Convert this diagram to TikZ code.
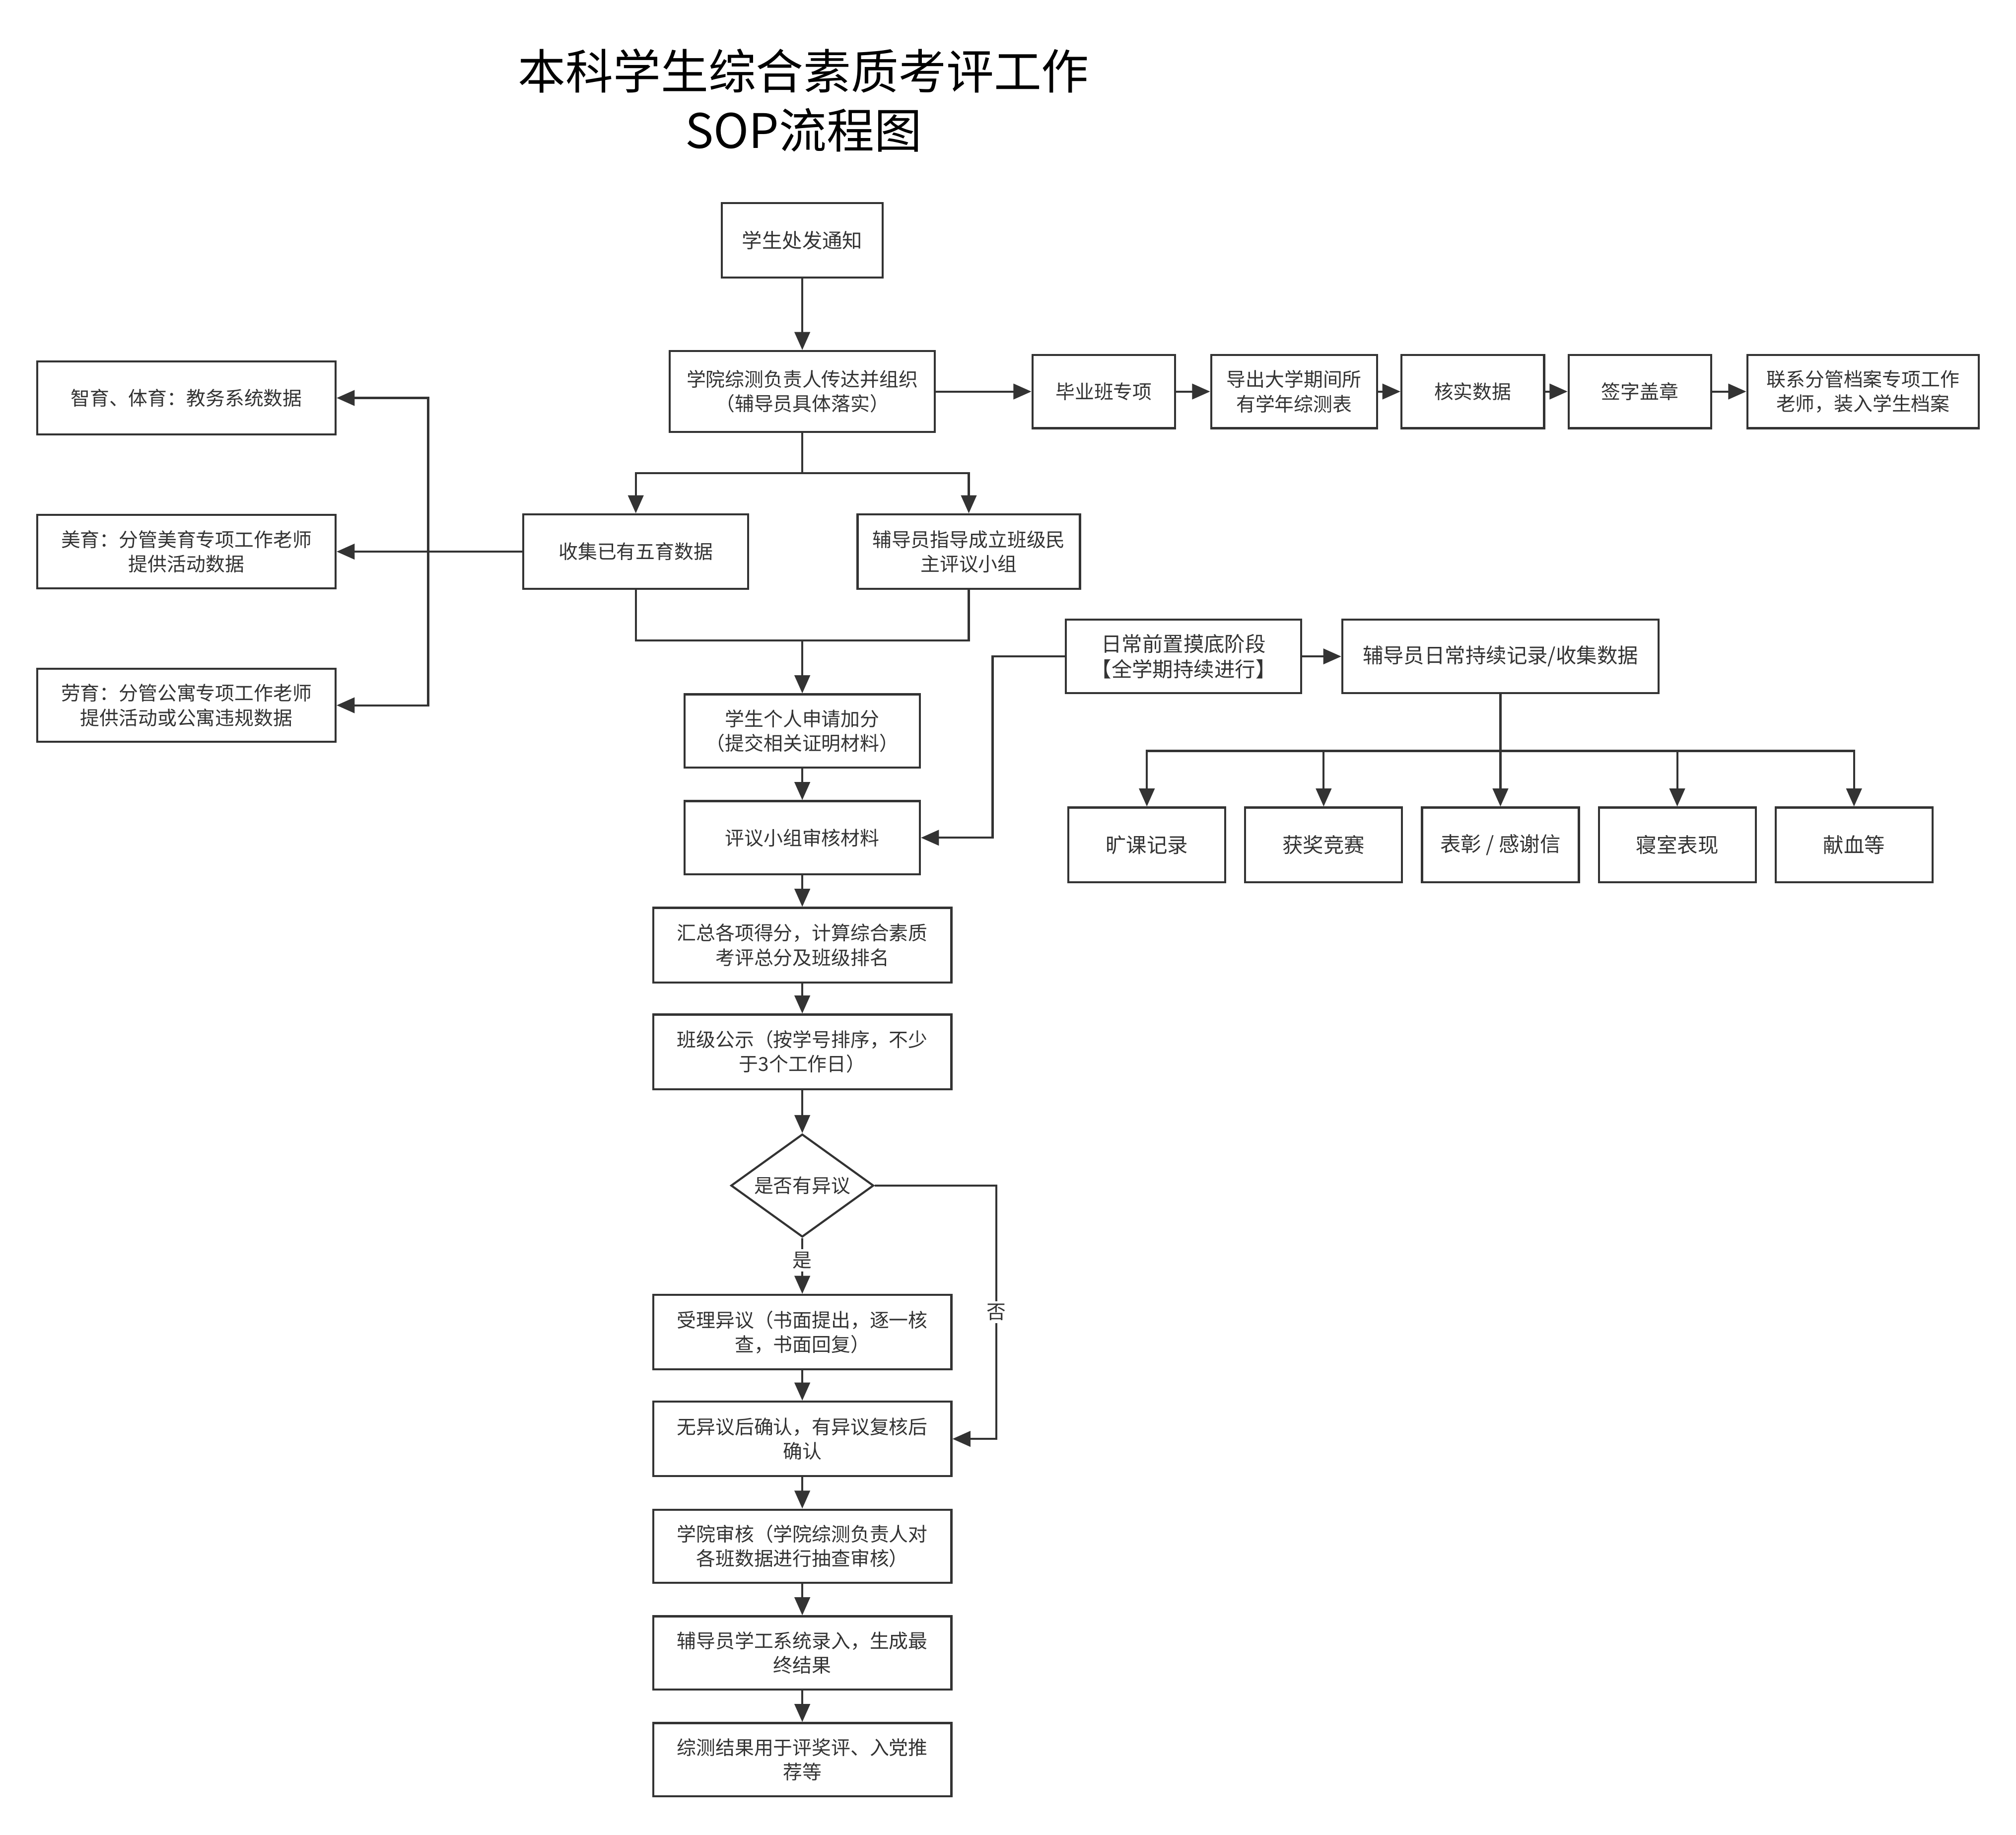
\documentclass[tikz,border=0pt]{standalone}
\usepackage{fontspec}
\setmainfont{Noto Sans CJK SC}
\usepackage{tikz}
\usetikzlibrary{arrows.meta,shapes.geometric,positioning,calc}
\definecolor{linie}{HTML}{333333}
\tikzset{
	kasten/.style={rectangle,draw,line width=0.8pt,inner sep=0pt,align=center,minimum height=28.5pt,font=\fontsize{7.5}{9.5}\selectfont},
	gross/.style={kasten,font=\fontsize{8}{10}\selectfont},
	raute/.style={diamond,draw,line width=0.8pt,aspect=1.4,inner sep=0pt,minimum width=55.5pt,minimum height=40pt,font=\fontsize{7.5}{9.5}\selectfont},
	marke/.style={fill=white,inner sep=1pt,font=\fontsize{7.5}{9.5}\selectfont}
}

\begin{document}
\begin{tikzpicture}[x=0.5pt,y=-0.5pt,color=linie,line width=0.8pt,>={Triangle[length=7pt,width=6pt]}]
	\useasboundingbox (0,0) rectangle (1568,1427);
	% Titel
		\node (titel) at (625,78) [align=center,text=black,font=\fontsize{18.5}{23}\selectfont] {本科学生综合素质考评工作\\SOP流程图};
	% Knoten
		\node (1) at (624,187) [kasten,minimum width=62.5pt,minimum height=29pt,font=\fontsize{7.8}{9.5}\selectfont] {学生处发通知};
		\node (2) at (624,304.5) [kasten,minimum width=103pt,minimum height=31.5pt] {学院综测负责人传达并组织\\（辅导员具体落实）};
		\node (3) at (858.5,304.5) [kasten,minimum width=55.5pt] {毕业班专项};
		\node (4) at (1006.5,304.5) [kasten,minimum width=64.5pt] {导出大学期间所\\有学年综测表};
		\node (5) at (1145.5,304.5) [kasten,minimum width=55.5pt] {核实数据};
		\node (6) at (1275.5,304.5) [kasten,minimum width=55.5pt] {签字盖章};
		\node (7) at (1449,304.5) [kasten,minimum width=90pt] {联系分管档案专项工作\\老师，装入学生档案};
		\node (8) at (145,309.5) [kasten,minimum width=116pt] {智育、体育：教务系统数据};
		\node (9) at (145,429) [kasten,minimum width=116pt] {美育：分管美育专项工作老师\\提供活动数据};
		\node (10) at (145,548.5) [kasten,minimum width=116pt] {劳育：分管公寓专项工作老师\\提供活动或公寓违规数据};
		\node (11) at (494.5,429) [kasten,minimum width=87.5pt,minimum height=29pt] {收集已有五育数据};
		\node (12) at (753.5,429) [kasten,minimum width=86.5pt,minimum height=29pt] {辅导员指导成立班级民\\主评议小组};
		\node (13) at (624,568.5) [kasten,minimum width=91.5pt] {学生个人申请加分\\（提交相关证明材料）};
		\node (14) at (624,651.5) [kasten,minimum width=91.5pt] {评议小组审核材料};
		\node (15) at (624,735) [kasten,minimum width=116pt,minimum height=29pt] {汇总各项得分，计算综合素质\\考评总分及班级排名};
		\node (16) at (624,818) [kasten,minimum width=116pt,minimum height=29pt] {班级公示（按学号排序，不少\\于3个工作日）};
		\node (17) at (624,922) [raute] {是否有异议};
		\node (18) at (624,1036) [kasten,minimum width=116pt,minimum height=29pt] {受理异议（书面提出，逐一核\\查，书面回复）};
		\node (19) at (624,1119) [kasten,minimum width=116pt,minimum height=29pt] {无异议后确认，有异议复核后\\确认};
		\node (20) at (624,1202.5) [kasten,minimum width=116pt] {学院审核（学院综测负责人对\\各班数据进行抽查审核）};
		\node (21) at (624,1285.5) [kasten,minimum width=116pt] {辅导员学工系统录入，生成最\\终结果};
		\node (22) at (624,1368.5) [kasten,minimum width=116pt] {综测结果用于评奖评、入党推\\荐等};
		\node (23) at (920.5,510.5) [gross,minimum width=91.5pt] {日常前置摸底阶段\\【全学期持续进行】};
		\node (24) at (1167,510.5) [gross,minimum width=123pt] {辅导员日常持续记录/收集数据};
		\node (25) at (892,657) [gross,minimum width=61pt,minimum height=29pt] {旷课记录};
		\node (26) at (1029.5,657) [gross,minimum width=61pt,minimum height=29pt] {获奖竞赛};
		\node (27) at (1167,657) [gross,minimum width=61pt,minimum height=29pt] {表彰 / 感谢信};
		\node (28) at (1304.5,657) [gross,minimum width=61pt,minimum height=29pt] {寝室表现};
		\node (29) at (1442,657) [gross,minimum width=61pt,minimum height=29pt] {献血等};
	% Knickpunkte
		\coordinate (k1) at (624,368);
		\coordinate (k2) at (624,498);
		\coordinate (k3) at (333,429);
		\coordinate (k4) at (772,510.5);
		\coordinate (k5) at (1167,584);
		\coordinate (k6) at (775,922);
	% Kanten
		\foreach \a/\b in {1/2,2/3,3/4,4/5,5/6,6/7,13/14,14/15,15/16,16/17,18/19,19/20,20/21,21/22,23/24,11/9}
			\draw[->] (\a) -- (\b);
		\draw (2) -- (k1);
		\draw[->] (k1) -| (11);
		\draw[->] (k1) -| (12);
		\draw (11) |- (k2) -| (12);
		\draw[->] (k2) -- (13);
		\draw[->] (k3) |- (8);
		\draw[->] (k3) |- (10);
		\draw[->] (23) -- (k4) |- (14);
		\draw (24) -- (k5);
		\foreach \n in {25,...,29}
			\draw[->] (k5) -| (\n);
		\draw[->] (17) -- node[marke,pos=0.4] {是} (18);
		\draw[->] (17) -- (k6) |- node[marke,pos=0.25] {否} (19);
\end{tikzpicture}
\end{document}
